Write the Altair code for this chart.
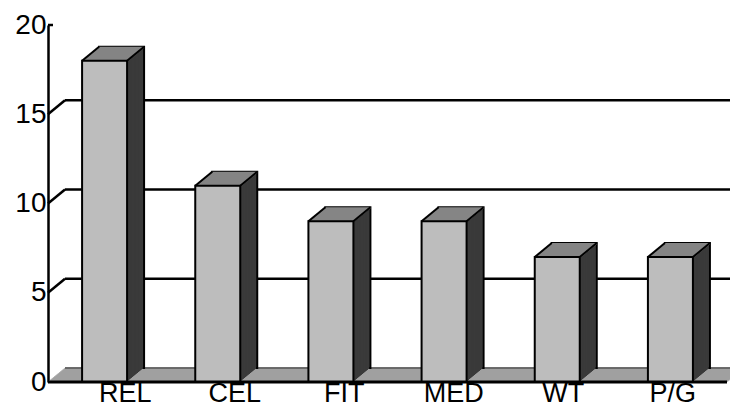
import altair as alt
import pandas as pd

categories = ["REL", "CEL", "FIT", "MED", "WT", "P/G"]
values = [18, 11, 9, 9, 7, 7]
grid_values = [5, 10, 15]
tick_labels = [0, 5, 10, 15, 20]

W, H = 679, 357
DX, DY = 17, 14
STEPS = 14
BW = 45

bars = pd.DataFrame({"cat": categories, "v": values})
grid = pd.DataFrame({"v": grid_values})
zero = pd.DataFrame({"v": [0]})
top = pd.DataFrame({"v": [20]})

xs = alt.Scale(domain=categories, paddingInner=0, paddingOuter=0)
xs_lab = alt.Scale(domain=categories, range=[22, 679], paddingInner=0, paddingOuter=0)
ys = alt.Scale(domain=[0, 20], nice=False, zero=True)

X = alt.X("cat:N", scale=xs, sort=categories, axis=None)
Xlab = alt.X("cat:N", scale=xs_lab, sort=categories,
             axis=alt.Axis(title=None, orient="bottom", domain=False, ticks=False,
                           labelAngle=0, labelFontSize=27, labelFont="Liberation Sans",
                           labelColor="black", labelPadding=-2))
Yaxis = alt.Axis(title=None, values=tick_labels, ticks=False, grid=False,
                 domainColor="black", domainWidth=2.5, labelFontSize=28,
                 labelFont="Liberation Sans", labelColor="black", labelPadding=2)

layers = []

# back-wall gridlines
layers.append(alt.Chart(grid).mark_rule(color="black", strokeWidth=2.5, yOffset=-DY)
              .encode(y=alt.Y("v:Q", scale=ys, axis=Yaxis),
                      x=alt.value(DX), x2=alt.value(W + DX)))
# left wall diagonals
layers.append(alt.Chart(grid).mark_rule(color="black", strokeWidth=2.5, y2Offset=-DY)
              .encode(y=alt.Y("v:Q", scale=ys), y2="v:Q",
                      x=alt.value(0), x2=alt.value(DX)))
# top tick at 20
layers.append(alt.Chart(top).mark_rule(color="black", strokeWidth=2.5)
              .encode(y=alt.Y("v:Q", scale=ys), x=alt.value(0), x2=alt.value(5)))

# floor slab
for i in range(STEPS + 1):
    off = i * DX / STEPS
    layers.append(alt.Chart(zero).mark_rule(color="#9a9a9a", strokeWidth=1.6, yOffset=-i)
                  .encode(y=alt.Y("v:Q", scale=ys), x=alt.value(off), x2=alt.value(W + off)))
layers.append(alt.Chart(zero).mark_rule(color="#555555", strokeWidth=1.5, yOffset=-DY)
              .encode(y=alt.Y("v:Q", scale=ys), x=alt.value(DX), x2=alt.value(W + DX)))

# bar extrusions (side faces)
for i in range(STEPS, 0, -1):
    off = i * DX / STEPS
    kw = dict(stroke="black", strokeWidth=2) if i == STEPS else dict(strokeWidth=0)
    layers.append(alt.Chart(bars).mark_bar(color="#3a3a3a", width=BW, xOffset=off,
                                           yOffset=-i, y2Offset=-i, **kw)
                  .encode(x=X, y=alt.Y("v:Q", scale=ys)))
# top faces
for i in range(1, STEPS + 1):
    off = i * DX / STEPS
    layers.append(alt.Chart(bars).mark_bar(color="#858585", width=BW, xOffset=off,
                                           yOffset=-i, y2Offset=-i + 1.6, strokeWidth=0)
                  .encode(x=X, y=alt.Y("v:Q", scale=ys), y2="v:Q"))
# front faces
layers.append(alt.Chart(bars).mark_bar(color="#bdbdbd", width=BW, stroke="black", strokeWidth=2)
              .encode(x=X, y=alt.Y("v:Q", scale=ys)))
# top diagonal edges
for side in (-BW / 2, BW / 2):
    layers.append(alt.Chart(bars).mark_rule(color="black", strokeWidth=2, xOffset=side,
                                            x2Offset=side + DX, y2Offset=-DY)
                  .encode(x=X, x2="cat:N", y=alt.Y("v:Q", scale=ys), y2="v:Q"))
# floor front edge
layers.append(alt.Chart(zero).mark_rule(color="black", strokeWidth=3)
              .encode(y=alt.Y("v:Q", scale=ys), x=alt.value(0), x2=alt.value(W)))
# category labels (own scale, as placed in the reference)
layers.append(alt.Chart(bars).mark_point(opacity=0)
              .encode(x=Xlab, y=alt.Y("v:Q", scale=ys)))

chart = alt.layer(*layers).resolve_scale(x="independent").properties(
    width=W, height=H,
    autosize=alt.AutoSizeParams(type="none"),
    padding={"left": 40, "top": 17, "right": 3, "bottom": 25},
    background="white",
).configure_view(stroke=None)

chart.save("out.html", embed_options={"renderer": "svg", "actions": False})
